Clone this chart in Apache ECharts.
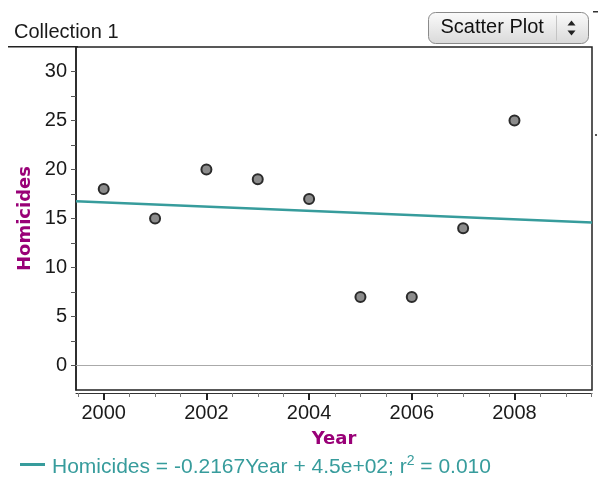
<!DOCTYPE html>
<html>
<head>
<meta charset="utf-8">
<script src="https://cdn.jsdelivr.net/npm/echarts@6/dist/echarts.min.js"></script>
<style>
  html, body { margin: 0; padding: 0; background: #ffffff; }
  #chart { width: 598px; height: 479px; }
</style>
</head>
<body>
<div id="chart"></div>
<script>
// Homicides per year
const years = [2000, 2001, 2002, 2003, 2004, 2005, 2006, 2007, 2008];
const homicides = [18, 15, 20, 19, 17, 7, 7, 14, 25];

// Axis ranges and tick positions
const xRange = [1999.46, 2009.51];
const yRange = [-2.5, 32.5];
const xMajorTicks = [2000, 2002, 2004, 2006, 2008];
const xMinorTicks = [1999.5, 2000.5, 2001, 2001.5, 2002.5, 2003, 2003.5,
                     2004.5, 2005, 2005.5, 2006.5, 2007, 2007.5, 2008.5, 2009, 2009.5];
const yTickLabels = [0, 5, 10, 15, 20, 25, 30];
const yTicks = [0, 2.5, 5, 7.5, 10, 12.5, 15, 17.5, 20, 22.5, 25, 27.5, 30];

// Least-squares fit of homicides on year
const n = years.length;
const mx = years.reduce((s, v) => s + v, 0) / n;
const my = homicides.reduce((s, v) => s + v, 0) / n;
let sxy = 0, sxx = 0, syy = 0;
for (let i = 0; i < n; i++) {
  sxy += (years[i] - mx) * (homicides[i] - my);
  sxx += (years[i] - mx) * (years[i] - mx);
  syy += (homicides[i] - my) * (homicides[i] - my);
}
const slope = sxy / sxx;
const intercept = my - slope * mx;
const r2 = (sxy * sxy) / (sxx * syy);

function sci(v) {
  const parts = v.toExponential(1).split('e');
  const exp = parts[1];
  return parts[0] + 'e' + exp[0] + exp.slice(1).padStart(2, '0');
}
const fitLine = xRange.map(x => [x, intercept + slope * x]);

const purple = '#990077';
const teal = '#379c9c';
const tickFont = 'Liberation Sans, Arial, sans-serif';

// Plot box geometry
const gridTop = 47, gridBottom = 89, chartH = 479, axisGap = 3;
const plotH = chartH - gridTop - gridBottom;

const chart = echarts.init(document.getElementById('chart'));
chart.setOption({
  animation: false,
  backgroundColor: '#ffffff',
  grid: {
    left: 76, right: 6, top: gridTop, bottom: gridBottom,
    show: true, borderColor: '#222222', borderWidth: 1.5, backgroundColor: '#ffffff'
  },
  xAxis: [
    {
      type: 'value', min: xRange[0], max: xRange[1], position: 'bottom', offset: axisGap,
      name: 'Year', nameLocation: 'middle', nameGap: 37,
      nameTextStyle: { color: purple, fontFamily: 'DejaVu Sans', fontWeight: 'bold', fontSize: 18 },
      axisLine: { show: true, onZero: false, lineStyle: { color: '#333333', width: 1 } },
      axisTick: { show: true, customValues: xMajorTicks, length: 7, lineStyle: { color: '#222222', width: 2 } },
      axisLabel: {
        show: true, customValues: xMajorTicks, color: '#1a1a1a', fontSize: 20, fontFamily: tickFont, margin: 10,
        formatter: v => String(v)
      },
      splitLine: { show: false }
    },
    {
      // half-year ticks: a second axis moved down onto the bottom tick rail
      type: 'value', min: xRange[0], max: xRange[1], position: 'top', offset: -(plotH + axisGap),
      axisLine: { show: false, onZero: false },
      axisTick: { show: true, inside: true, customValues: xMinorTicks, length: 4, lineStyle: { color: '#777777', width: 1 } },
      axisLabel: { show: false },
      splitLine: { show: false }
    }
  ],
  yAxis: {
    type: 'value', min: yRange[0], max: yRange[1],
    name: 'Homicides', nameLocation: 'middle', nameGap: 42, nameRotate: 90,
    nameTextStyle: { color: purple, fontFamily: 'DejaVu Sans', fontWeight: 'bold', fontSize: 18 },
    axisLine: { show: true, onZero: false, lineStyle: { color: '#222222', width: 1.5 } },
    axisTick: { show: true, customValues: yTicks, length: 5, lineStyle: { color: '#555555', width: 1 } },
    axisLabel: { show: true, customValues: yTickLabels, color: '#1a1a1a', fontSize: 20, fontFamily: tickFont, margin: 9 },
    splitLine: { show: false }
  },
  series: [
    {
      type: 'line', data: fitLine, symbol: 'none', z: 2, silent: true,
      lineStyle: { color: teal, width: 2.5 }
    },
    {
      type: 'scatter', z: 3,
      data: years.map((y, i) => [y, homicides[i]]),
      symbolSize: 10,
      itemStyle: { color: '#8c8c8c', borderColor: '#2b2b2b', borderWidth: 2, opacity: 1 },
      markLine: {
        silent: true, symbol: 'none', label: { show: false },
        lineStyle: { color: '#aaaaaa', width: 1, type: 'solid' },
        data: [{ yAxis: 0 }]
      }
    }
  ],
  graphic: [
    // collection header and its rule
    { type: 'text', left: 14, top: 22, style: { text: 'Collection 1', fill: '#1a1a1a', font: '20px "Liberation Sans", Arial, sans-serif' } },
    { type: 'rect', left: 8, top: 46, shape: { width: 70, height: 1.5 }, style: { fill: '#222222' } },
    // plot type selector
    {
      type: 'group', left: 428, top: 12,
      children: [
        {
          type: 'rect', shape: { x: 0, y: 0, width: 160, height: 31, r: 7 },
          style: {
            fill: new echarts.graphic.LinearGradient(0, 0, 0, 1, [
              { offset: 0, color: '#fbfbfb' }, { offset: 1, color: '#d9d9d9' }
            ]),
            stroke: '#8a8a8a', lineWidth: 1
          }
        },
        { type: 'line', shape: { x1: 128, y1: 3, x2: 128, y2: 28 }, style: { stroke: '#c4c4c4', lineWidth: 1 } },
        { type: 'polygon', shape: { points: [[139, 13], [147, 13], [143, 8]] }, style: { fill: '#222222' } },
        { type: 'polygon', shape: { points: [[139, 18], [147, 18], [143, 23]] }, style: { fill: '#222222' } },
        { type: 'text', x: 12, y: 5, style: { text: 'Scatter Plot', fill: '#111111', font: '20px "Liberation Sans", Arial, sans-serif' } }
      ]
    },
    { type: 'rect', left: 593, top: 11, shape: { width: 5, height: 1.5 }, style: { fill: '#333333' } },
    { type: 'rect', left: 595, top: 134, shape: { width: 2, height: 2 }, style: { fill: '#555555' } },
    // fitted line legend
    { type: 'rect', left: 20, top: 463, shape: { width: 25, height: 3 }, style: { fill: teal } },
    {
      type: 'text', left: 52, top: 454,
      style: {
        text: '{t|Homicides = ' + slope.toFixed(4) + 'Year + ' + sci(intercept) + '; r}{s|2}{t| = ' + r2.toFixed(3) + '}',
        rich: {
          t: { fill: teal, font: '21px "Liberation Sans", Arial, sans-serif', verticalAlign: 'bottom', lineHeight: 24 },
          s: { fill: teal, font: '14px "Liberation Sans", Arial, sans-serif', verticalAlign: 'top', lineHeight: 24, padding: [0, 0, 9, 0] }
        }
      }
    }
  ]
});
</script>
</body>
</html>
